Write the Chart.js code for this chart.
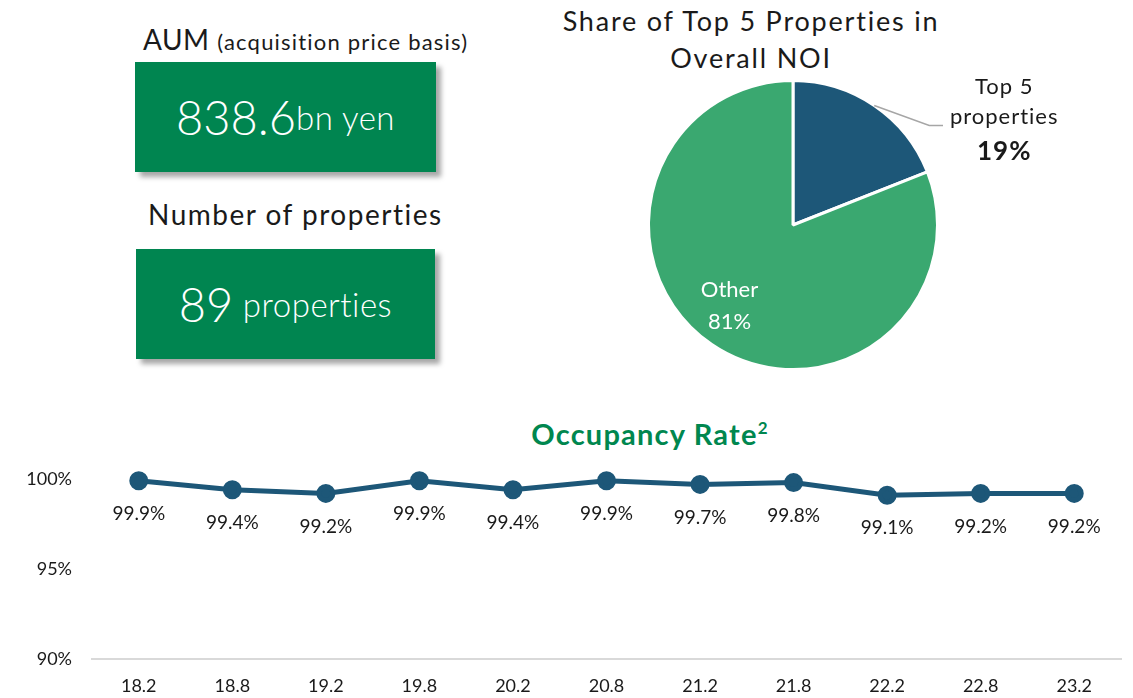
<!DOCTYPE html>
<html>
<head>
<meta charset="utf-8">
<script src="https://cdn.jsdelivr.net/npm/chart.js@4.4.0/dist/chart.umd.min.js"></script>
<style>
  body { margin: 0; width: 1133px; height: 698px; background: #fff; font-family: Lato, "Noto Sans", sans-serif; color: #1a1a1a; position: relative; overflow: hidden; }
  .abs { position: absolute; }
  .head { font-size: 28px; white-space: nowrap; letter-spacing: 1.5px; }
  .box { background: #008550; color: #fff; box-shadow: 5px 5px 5px rgba(0,0,0,0.35); display: flex; align-items: center; justify-content: center; white-space: nowrap; }
  .big { font-size: 47px; font-weight: 300; }
  .unit { font-size: 33px; font-weight: 300; letter-spacing: 0.5px; }
  #pieTitle { left: 520px; top: 2px; width: 462px; text-align: center; font-size: 27px; line-height: 37px; letter-spacing: 1.8px; }
  #occTitle { left: 460px; top: 416px; width: 380px; text-align: center; color: #00874f; font-weight: 700; font-size: 29px; letter-spacing: 1.2px; }
  #occTitle sup { font-size: 17px; }
</style>
</head>
<body>
<div class="abs head" style="left:143px;top:22px;letter-spacing:0.5px">AUM <span style="font-size:22px;letter-spacing:1.2px">(acquisition price basis)</span></div>
<div class="abs box" style="left:135px;top:62px;width:301px;height:110px"><span class="big">838.6</span><span class="unit">bn yen</span></div>
<div class="abs head" style="left:148px;top:197px">Number of properties</div>
<div class="abs box" style="left:136px;top:249px;width:299px;height:110px"><span class="big">89</span><span class="unit">&nbsp;properties</span></div>
<div class="abs" id="pieTitle">Share of Top 5 Properties in<br>Overall NOI</div>
<div class="abs" id="occTitle">Occupancy Rate<sup>2</sup></div>

<div class="abs" style="left:643px;top:75px;width:300px;height:300px"><canvas id="pie"></canvas></div>
<div class="abs" style="left:0;top:440px;width:1133px;height:258px"><canvas id="line"></canvas></div>

<script>
const pieLabels = ['Top 5 properties', 'Other'];
const pieValues = [19, 81];
const pieColors = ['#1d5778', '#3aa870'];

const periods = ['18.2', '18.8', '19.2', '19.8', '20.2', '20.8', '21.2', '21.8', '22.2', '22.8', '23.2'];
const occupancy = [99.9, 99.4, 99.2, 99.9, 99.4, 99.9, 99.7, 99.8, 99.1, 99.2, 99.2];
const yTicks = [90, 95, 100];

const FONT = 'Lato, "Noto Sans", sans-serif';

// labels on the pie: leader line for top 5, inside text for other
const pieLabelPlugin = {
  id: 'pieLabels',
  afterDatasetsDraw(chart) {
    const ctx = chart.ctx;
    const arcs = chart.getDatasetMeta(0).data;
    ctx.save();
    const a0 = arcs[0];
    const mid0 = (a0.startAngle + a0.endAngle) / 2;
    const sx = a0.x + a0.outerRadius * Math.cos(mid0);
    const sy = a0.y + a0.outerRadius * Math.sin(mid0);
    ctx.strokeStyle = '#a6a6a6';
    ctx.lineWidth = 1.5;
    ctx.beginPath();
    ctx.moveTo(sx, sy);
    ctx.lineTo(sx + 55, sy + 20);
    ctx.lineTo(sx + 70, sy + 20);
    ctx.stroke();
    ctx.restore();

    const a1 = arcs[1];
    const mid1 = (a1.startAngle + a1.endAngle) / 2;
    const r = a1.outerRadius * 0.72;
    const lx = a1.x + r * Math.cos(mid1) - 5;
    const ly = a1.y + r * Math.sin(mid1);
    ctx.save();
    ctx.fillStyle = '#fff';
    ctx.textAlign = 'center';
    ctx.textBaseline = 'middle';
    ctx.font = '22px ' + FONT;
    ctx.fillText(pieLabels[1], lx, ly - 21);
    ctx.fillText(pieValues[1] + '%', lx, ly + 11);
    ctx.restore();
  }
};

const pieChart = new Chart(document.getElementById('pie'), {
  type: 'pie',
  data: {
    labels: pieLabels,
    datasets: [{
      data: pieValues,
      backgroundColor: pieColors,
      borderColor: '#fff',
      borderWidth: 3,
    }],
  },
  options: {
    responsive: true,
    maintainAspectRatio: false,
    animation: false,
    layout: { padding: 4 },
    plugins: { legend: { display: false }, tooltip: { enabled: false } },
  },
  plugins: [pieLabelPlugin],
});

// callout text for the top 5 slice
(function () {
  const a0 = pieChart.getDatasetMeta(0).data[0];
  const mid0 = (a0.startAngle + a0.endAngle) / 2;
  const sx = 643 + a0.x + a0.outerRadius * Math.cos(mid0);
  const sy = 75 + a0.y + a0.outerRadius * Math.sin(mid0);
  const d = document.createElement('div');
  d.className = 'abs';
  d.style.cssText = `left:${sx + 50}px;top:${sy - 34}px;width:160px;text-align:center;font-size:22px;line-height:30px;letter-spacing:1px`;
  d.innerHTML = `Top 5<br>properties<br><b style="font-size:26px;line-height:38px">${pieValues[0]}%</b>`;
  document.body.appendChild(d);
})();

// value labels under each point
const valueLabels = {
  id: 'valueLabels',
  afterDatasetsDraw(chart) {
    const ctx = chart.ctx;
    ctx.save();
    ctx.fillStyle = '#1a1a1a';
    ctx.font = '19px ' + FONT;
    ctx.textAlign = 'center';
    ctx.textBaseline = 'middle';
    chart.getDatasetMeta(0).data.forEach((pt, i) => {
      ctx.fillText(occupancy[i].toFixed(1) + '%', pt.x, pt.y + 33);
    });
    ctx.restore();
  }
};

new Chart(document.getElementById('line'), {
  type: 'line',
  data: {
    labels: periods,
    datasets: [{
      data: occupancy,
      borderColor: '#1d5778',
      backgroundColor: '#1d5778',
      borderWidth: 5,
      pointRadius: 7,
      pointHoverRadius: 7,
      tension: 0,
      clip: false,
    }],
  },
  options: {
    responsive: true,
    maintainAspectRatio: false,
    animation: false,
    layout: { padding: { top: 39, right: 3, left: 0, bottom: 0 } },
    plugins: { legend: { display: false }, tooltip: { enabled: false } },
    scales: {
      x: {
        offset: true,
        afterFit(scale) { scale.height = 39; },
        grid: { display: false, drawTicks: false },
        border: { color: '#d9d9d9', width: 2 },
        ticks: { color: '#1a1a1a', font: { family: FONT, size: 18 }, padding: 16 },
      },
      y: {
        min: 90,
        max: 100,
        afterBuildTicks(scale) { scale.ticks = yTicks.map(v => ({ value: v })); },
        afterFit(scale) { scale.width = 92; },
        grid: { display: false, drawTicks: false },
        border: { display: false },
        ticks: { color: '#1a1a1a', font: { family: FONT, size: 18 }, padding: 20, callback: v => v + '%' },
      },
    },
  },
  plugins: [valueLabels],
});
</script>
</body>
</html>
